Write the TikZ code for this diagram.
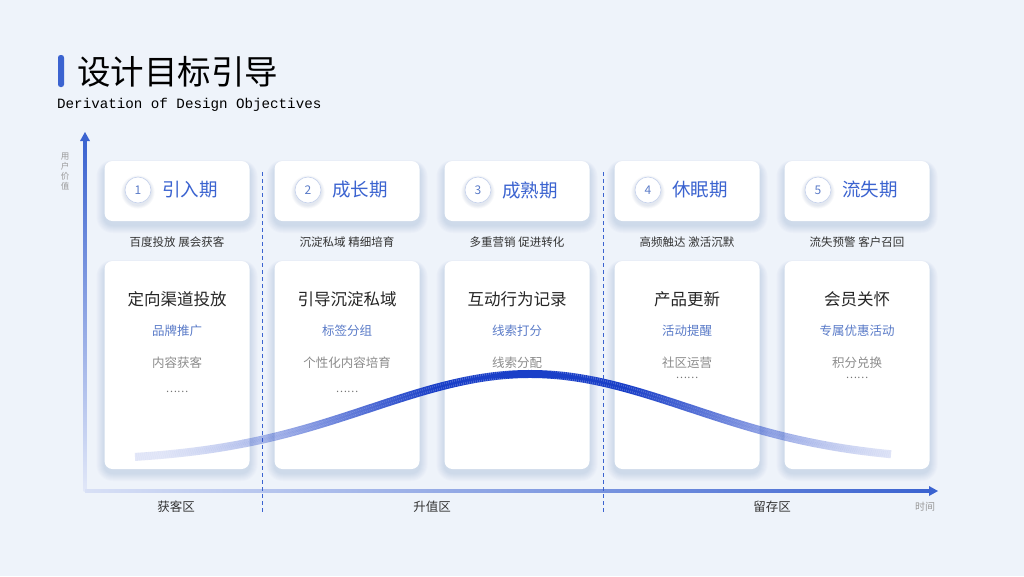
\documentclass[tikz,border=0pt]{standalone}
\usepackage{fontspec}
\setmainfont{Noto Sans CJK SC}
\newfontfamily\monof{Liberation Mono}
\usetikzlibrary{arrows.meta}
\definecolor{bg}{HTML}{EEF3FA}
\definecolor{mblue}{HTML}{3B63D0}
\definecolor{lblue}{HTML}{5A7BC8}
\definecolor{dblue}{HTML}{1A3FC8}
\definecolor{shd}{HTML}{5070A8}
\begin{document}
\begin{tikzpicture}[x=1pt,y=-1pt,
 card/.style={fill=white,rounded corners=8pt},
 num/.style={circle,fill=white,draw=lblue!35,line width=0.6pt,minimum size=26pt,inner sep=0pt,font=\fontsize{12}{12}\selectfont\rmfamily,text=lblue},
 stt/.style={font=\fontsize{18.5}{18.5}\selectfont,text=mblue},
 sub/.style={font=\fontsize{11.5}{12}\selectfont,text=black!80},
 ct/.style={font=\fontsize{16.5}{17}\selectfont,text=black!85},
 cb/.style={font=\fontsize{12.5}{13}\selectfont,text=lblue},
 cg/.style={font=\fontsize{12.5}{13}\selectfont,text=black!45},
 dotsn/.style={font=\fontsize{10.5}{10}\selectfont,text=black!55,inner sep=0pt},
 zone/.style={font=\fontsize{12.5}{13}\selectfont,text=black!80}]
\fill[bg] (0,0) rectangle (1024,576);
\useasboundingbox (0,0) rectangle (1024,576);
\fill[mblue,rounded corners=2.5pt] (58,55) rectangle (64,87);
\node[anchor=west,font=\fontsize{33.5}{34}\selectfont,inner sep=0pt] (title) at (77,72) {设计目标引导};
\node[anchor=west,font=\fontsize{14.2}{14}\selectfont\monof,inner sep=0pt] (subt) at (57,105) {Derivation of Design Objectives};
% axes
\shade[top color=mblue,bottom color=mblue!15] (83.5,140) rectangle (86.5,491);
\fill[mblue] (80,141) -- (85,132) -- (90,141) -- cycle;
\shade[left color=mblue!20,right color=mblue] (85,489.5) rectangle (930,492.5);
\fill[mblue] (929,486) -- (938,491) -- (929,496) -- cycle;
\node[font=\fontsize{8.5}{10}\selectfont,text=black!40,align=center,inner sep=0pt] (yl) at (65,172) {用\\户\\价\\值};
\node[font=\fontsize{10}{10}\selectfont,text=black!40] (tl) at (925,507) {时间};
\draw[mblue,thick,dash pattern=on 4pt off 3pt] (262,172) -- (262,512);
\draw[mblue,thick,dash pattern=on 4pt off 3pt] (603,172) -- (603,512);
\node[zone] (z1) at (176,507) {获客区};
\node[zone] (z2) at (432,507) {升值区};
\node[zone] (z3) at (772,507) {留存区};
% stages
\foreach \x/\n/\t/\s/\a/\b/\c/\d in {
 177/1/引入期/百度投放 展会获客/定向渠道投放/品牌推广/内容获客/392,
 347/2/成长期/沉淀私域 精细培育/引导沉淀私域/标签分组/个性化内容培育/392,
 517/3/成熟期/多重营销 促进转化/互动行为记录/线索打分/线索分配/0,
 687/4/休眠期/高频触达 激活沉默/产品更新/活动提醒/社区运营/378,
 857/5/流失期/流失预警 客户召回/会员关怀/专属优惠活动/积分兑换/378}{
 \foreach \k in {1,...,8}{
   \fill[shd,opacity=0.022,rounded corners=8pt+\k pt] (\x-72.5-\k,161+4-\k*0.6) rectangle (\x+72.5+\k,221+4+\k);
   \fill[shd,opacity=0.022,rounded corners=8pt+\k pt] (\x-72.5-\k,261+4-\k*0.6) rectangle (\x+72.5+\k,469+4+\k);
 }
 \fill[card] (\x-72.5,161) rectangle (\x+72.5,221);
 \fill[card] (\x-72.5,261) rectangle (\x+72.5,469);
 \foreach \k in {1,...,4}{\fill[shd,opacity=0.04] (\x-39,190+2) circle (13+\k*0.9);}
 \node[num] (n\n) at (\x-39,190) {\n};
 \node[stt,anchor=west,inner sep=0pt] (s\n) at (\x-15,190) {\t};
 \node[sub] (u\n) at (\x,242) {\s};
 \node[ct] (c\n) at (\x,299) {\a};
 \node[cb] (b\n) at (\x,331) {\b};
 \node[cg] (g\n) at (\x,363) {\c};
 \ifnum\d>0 \node[dotsn] (d\n) at (\x,\d) {……};\fi
}
% curve
\foreach \i in {0,...,377}{
 \pgfmathsetmacro{\xa}{135+\i*2}
 \pgfmathsetmacro{\xb}{\xa+2}
 \pgfmathsetmacro{\op}{max(0.12,min(1,1.15*exp(-((\xa-530)/270)^2*1.2)))}
 \draw[dblue,line width=8pt,draw opacity=\op,line cap=butt]
   (\xa,{461-87*exp(-((\xa-530)/226)^2)}) -- (\xb,{461-87*exp(-((\xb-530)/226)^2)});
}
\end{tikzpicture}
\end{document}
